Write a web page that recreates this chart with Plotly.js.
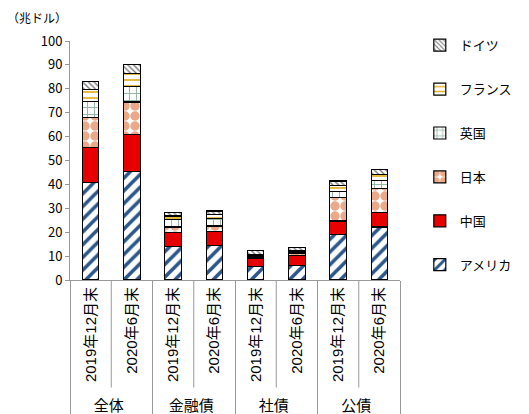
<!DOCTYPE html>
<html>
<head>
<meta charset="utf-8">
<script src="https://cdn.plot.ly/plotly-3.0.1.min.js"></script>
<style>html,body{margin:0;padding:0;background:#fff;}</style>
</head>
<body>
<div id="chart" style="width:529px;height:414px;"></div>
<script>
const groups = ['全体','全体','金融債','金融債','社債','社債','公債','公債'];
const periods = ['2019年12月末','2020年6月末','2019年12月末','2020年6月末','2019年12月末','2020年6月末','2019年12月末','2020年6月末'];
const america = [40.7, 45.3, 13.9, 14.4, 5.6, 6.0, 19.1, 22.2];
const china   = [14.8, 15.7, 5.9, 5.8, 3.6, 4.4, 5.6, 6.0];
const japan   = [12.6, 13.5, 2.4, 2.4, 0.5, 0.6, 9.8, 10.2];
const uk      = [6.7, 6.6, 3.2, 3.1, 0.5, 0.7, 2.4, 3.1];
const france  = [4.8, 5.2, 1.4, 1.8, 0.5, 0.8, 2.7, 2.8];
const germany = [3.5, 3.8, 1.5, 1.4, 1.6, 1.2, 1.8, 2.0];
const seriesNames = ['アメリカ','中国','日本','英国','フランス','ドイツ'];

const font = "Noto Sans CJK JP, Liberation Sans, sans-serif";
const tickFontX = "Liberation Sans, Noto Sans CJK JP, sans-serif";
const styles = [
  {color:'#ffffff', pattern:{shape:'/', fgcolor:'#2a5689', bgcolor:'#ffffff', size:9, solidity:0.4}},
  {color:'#e60000'},
  {color:'#ffffff', pattern:{shape:'.', fgcolor:'#eba98a', bgcolor:'#ffffff', size:10, solidity:0.7}},
  {color:'#ffffff', pattern:{shape:'+', fgcolor:'#8fb3a2', bgcolor:'#ffffff', size:7, solidity:0.25}},
  {color:'#ffffff', pattern:{shape:'-', fgcolor:'#e0b030', bgcolor:'#ffffff', size:6, solidity:0.3}},
  {color:'#ffffff', pattern:{shape:'\\', fgcolor:'#7a7a7a', bgcolor:'#ffffff', size:4, solidity:0.35}}
];
const values = [america, china, japan, uk, france, germany];

const traces = values.map((v, i) => ({
  type:'bar',
  name: seriesNames[i],
  legendgroup: 'g'+i,
  legendrank: values.length - i,
  x: [groups, periods],
  y: v,
  marker: Object.assign({line:{color:'#000000', width:1.2}}, styles[i]),
  hoverinfo:'y+name'
}));

const nCat = periods.length;
const shapes = [];
for (let k = 1; k < nCat; k += 2) {
  shapes.push({type:'line', xref:'paper', yref:'paper', x0:k/nCat, x1:k/nCat, y0:0, y1:-0.45,
    line:{color:'#999999', width:1}});
}

const layout = {
  width:529, height:414,
  margin:{l:70, r:94, t:41, b:134},
  barmode:'stack',
  bargap:0.6,
  paper_bgcolor:'#ffffff',
  plot_bgcolor:'#ffffff',
  font:{family:font, size:13, color:'#000000'},
  showlegend:true,
  legend:{x:1.06, y:1.045, yanchor:'top', xanchor:'left', traceorder:'grouped',
    tracegroupgap:24, font:{family:font, size:13}, itemwidth:30, maxheight:400,
    bgcolor:'rgba(0,0,0,0)'},
  xaxis:{type:'multicategory', tickangle:-90, showline:true, linecolor:'#999999',
    showdividers:true, dividercolor:'#999999', dividerwidth:1, ticks:'',
    tickfont:{family:tickFontX, size:15}},
  yaxis:{range:[0,100], dtick:10, ticks:'outside', ticklen:4, tickcolor:'#999999',
    showline:true, linecolor:'#999999', showgrid:false, zeroline:false,
    tickfont:{family:font, size:13}},
  shapes: shapes,
  annotations:[{text:'（兆ドル）', xref:'paper', yref:'paper', x:-0.1, y:1.1,
    xanchor:'center', yanchor:'middle', showarrow:false, font:{family:font, size:12}}]
};

Plotly.newPlot('chart', traces, layout, {displayModeBar:false, staticPlot:true});
</script>
</body>
</html>
